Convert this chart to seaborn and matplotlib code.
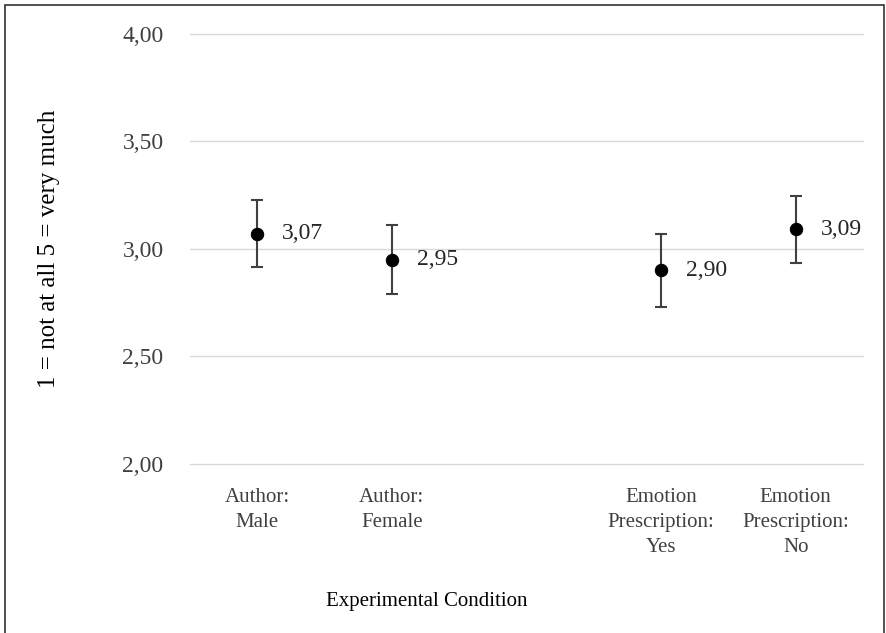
import numpy as np
import pandas as pd
import matplotlib.pyplot as plt
from matplotlib.patches import Rectangle
import seaborn as sns

# data (the empty category is the gap in the middle)
conditions = ['Author:\nMale', 'Author:\nFemale', '',
              'Emotion\nPrescription:\nYes', 'Emotion\nPrescription:\nNo']
means = [3.07, 2.95, np.nan, 2.90, 3.09]
errors = [0.155, 0.16, np.nan, 0.17, 0.155]
yticks = [2.0, 2.5, 3.0, 3.5, 4.0]

df = pd.DataFrame({'cond': conditions, 'mean': means, 'err': errors})
df['pos'] = np.arange(len(df))

sns.set_style('white')
plt.rcParams['font.family'] = ['Liberation Serif', 'DejaVu Serif']

fig = plt.figure(figsize=(8.87, 6.33), dpi=100)
ax = fig.add_axes([190/887, 1-464/633, 673/887, (464-33.7)/633])

ax.errorbar(df['pos'], df['mean'], yerr=df['err'], fmt='none',
            ecolor='#404040', elinewidth=1.5, capsize=4, capthick=1.5, zorder=2)
sns.scatterplot(data=df, x='pos', y='mean', color='black', s=80,
                edgecolor='black', zorder=3, ax=ax)

for _, r in df.dropna().iterrows():
    ax.annotate(f"{r['mean']:.2f}".replace('.', ','), (r['pos'], r['mean']),
                xytext=(18, 0), textcoords='offset points', ha='left', va='center',
                fontsize=17, color='#262626')

ax.set_xlim(-0.5, len(df) - 0.5)
ax.set_ylim(2, 4)
ax.set_yticks(yticks)
ax.set_yticklabels([f'{t:.2f}'.replace('.', ',') for t in yticks], fontsize=17, color='#404040')
ax.set_xticks(df['pos'])
ax.set_xticklabels(df['cond'], fontsize=15, color='#404040', linespacing=1.45)
ax.tick_params(axis='y', length=0, pad=19)
ax.tick_params(axis='x', length=0, pad=17)
ax.grid(axis='y', color='#d9d9d9', linewidth=1)
for gl in ax.get_ygridlines():
    gl.set_clip_on(False)
for s in ax.spines.values():
    s.set_visible(False)

ax.set_xlabel('Experimental Condition', fontsize=15, color='black')
ax.xaxis.set_label_coords((427-190)/673, (464-592)/430.3)
ax.set_ylabel('1 = not at all 5 = very much', fontsize=18, color='black')
ax.yaxis.set_label_coords((60-190)/673, 0.5)

fig.patches.append(Rectangle((5/887, -0.02), 879/887, 1 - 5/633 + 0.02,
                             transform=fig.transFigure, fill=False,
                             edgecolor='#333333', linewidth=1.2))

fig.savefig('out.png', dpi=100)
